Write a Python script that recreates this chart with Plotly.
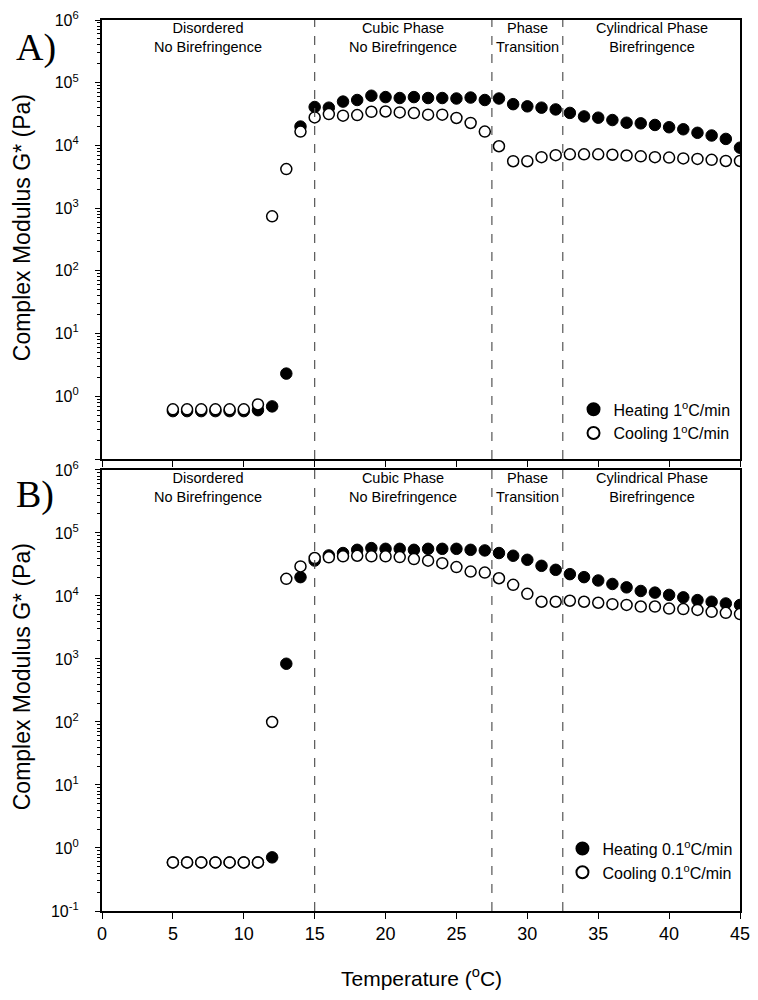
import plotly.graph_objects as go
from plotly.subplots import make_subplots

temps = list(range(5, 46))

# panel A, 1 C/min
heat_a = [0.58, 0.58, 0.58, 0.58, 0.58, 0.58, 0.6, 0.69, 2.3, 20000,
          41000, 40000, 50000, 53000, 62000, 59000, 57000, 59000, 57000, 57000,
          56000, 58000, 53000, 56000, 45500, 42000, 40000, 37500, 33000, 29000,
          27700, 25400, 23000, 22500, 21200, 19500, 18100, 15900, 14400, 12700, 9200]
cool_a = [0.62, 0.62, 0.62, 0.62, 0.62, 0.62, 0.74, 740, 4200, 16600,
          28000, 31600, 29800, 30500, 34400, 34800, 33600, 32800, 30900, 30900,
          27400, 22800, 16600, 9700, 5600, 5600, 6500, 7000, 7200, 7200,
          7200, 7100, 6900, 6700, 6500, 6400, 6200, 6100, 5900, 5650, 5650]

# panel B, 0.1 C/min
heat_b = [0.59, 0.59, 0.59, 0.59, 0.59, 0.59, 0.59, 0.71, 840, 19900,
          36500, 44000, 48000, 54000, 57500, 56000, 56000, 54000, 56000, 56000,
          56000, 54000, 52800, 48000, 43500, 37500, 30100, 26000, 22200, 19900,
          17600, 15500, 13700, 12000, 11300, 10400, 9500, 8600, 8100, 7600, 7200]
cool_b = [0.59, 0.59, 0.59, 0.59, 0.59, 0.59, 0.59, 100, 18700, 29400,
          40000, 41000, 42500, 43500, 42500, 42500, 41400, 38500, 36300, 33200,
          28700, 24400, 23500, 19100, 15000, 10800, 8100, 8100, 8400, 8100,
          7800, 7400, 7200, 6800, 6800, 6300, 6200, 6000, 5600, 5400, 5150]

phase_bounds = [15, 27.5, 32.5]
region_x = [7.5, 21.2, 30.0, 38.8]
region_text = ["Disordered<br>No Birefringence", "Cubic Phase<br>No Birefringence",
               "Phase<br>Transition", "Cylindrical Phase<br>Birefringence"]
xticks = list(range(0, 50, 5))
decades = [-1, 0, 1, 2, 3, 4, 5, 6]

FONT = "Liberation Sans, Arial, sans-serif"
SERIF = "Liberation Serif, Times New Roman, serif"

fig = make_subplots(rows=2, cols=1, vertical_spacing=0.0123)
fig.update_yaxes(domain=[0.5073, 1.0], row=1, col=1)
fig.update_yaxes(domain=[0.0, 0.495], row=2, col=1)

panels = [(heat_a, cool_a, "1", "legend"), (heat_b, cool_b, "0.1", "legend2")]
for i, (heat, cool, rate, leg) in enumerate(panels):
    r = i + 1
    sx = "" if r == 1 else str(r)
    fig.add_trace(go.Scatter(x=temps, y=heat, mode="markers", name="Heating " + rate + "<sup>o</sup>C/min",
                             marker=dict(symbol="circle", size=11.5, color="black",
                                         line=dict(color="black", width=1)),
                             legend=leg), row=r, col=1)
    fig.add_trace(go.Scatter(x=temps, y=cool, mode="markers", name="Cooling " + rate + "<sup>o</sup>C/min",
                             marker=dict(symbol="circle", size=11, color="white",
                                         line=dict(color="black", width=1.5)),
                             legend=leg), row=r, col=1)
    for b in phase_bounds:
        fig.add_shape(type="line", x0=b, x1=b, y0=0, y1=1, xref="x" + sx, yref="y" + sx + " domain",
                      line=dict(color="#555555", width=1.2, dash="dash"))
    for rx, rt in zip(region_x, region_text):
        fig.add_annotation(x=rx, y=1.004, xref="x" + sx, yref="y" + sx + " domain",
                           text=rt, showarrow=False, yanchor="top",
                           font=dict(family=FONT, size=14.5, color="black"))

minor_vals = [m * 10 ** d for d in range(-1, 6) for m in range(2, 10)]
# trailing spaces keep the labels clear of the axis, as in the original
ytext_b = ["10<sup>%d</sup>&nbsp;&nbsp;&nbsp;" % d for d in decades]
ytext_a = [""] + ytext_b[1:]
for r, ytext in [(1, ytext_a), (2, ytext_b)]:
    fig.update_yaxes(type="log", range=[-1, 6], tickvals=[10 ** d for d in decades], ticktext=ytext,
                     ticks="outside", ticklen=5, tickwidth=1.2, tickcolor="black",
                     minor=dict(tickvals=minor_vals, ticks="outside", ticklen=3, tickcolor="black"),
                     showline=True, linecolor="black", linewidth=1.5, mirror=True,
                     showgrid=False, zeroline=False, automargin=False, ticklabeloverflow="allow",
                     tickfont=dict(family=FONT, size=16, color="black"), row=r, col=1)
    fig.update_xaxes(range=[0, 45], tickvals=xticks, ticks="outside", ticklen=6, tickwidth=1.2,
                     tickcolor="black", showline=True, linecolor="black", linewidth=1.5, mirror=True,
                     showgrid=False, zeroline=False, showticklabels=(r == 2), automargin=False,
                     ticklabeloverflow="allow",
                     tickfont=dict(family=FONT, size=18, color="black"), row=r, col=1)

# axis titles and panel letters
fig.add_annotation(x=0.5, y=-0.074, xref="paper", yref="paper", text="Temperature (<sup>o</sup>C)",
                   showarrow=False, xanchor="center", yanchor="middle",
                   font=dict(family=FONT, size=21, color="black"))
for yc in [0.7666, 0.2626]:
    fig.add_annotation(x=-0.125, y=yc, xref="paper", yref="paper", text="Complex Modulus G* (Pa)",
                       textangle=-90, showarrow=False, xanchor="center", yanchor="middle",
                       font=dict(family=FONT, size=23, color="black"))
for yc, lab in [(0.9686, "A)"), (0.468, "B)")]:
    fig.add_annotation(x=-0.138, y=yc, xref="paper", yref="paper", text=lab, showarrow=False,
                       xanchor="left", yanchor="middle",
                       font=dict(family=SERIF, size=38, color="black"))

# the page body adds 8px on the left and top, so the figure is drawn 8px smaller
fig.update_layout(
    width=750, height=992,
    margin=dict(l=94, r=18, t=12, b=89),
    plot_bgcolor="white", paper_bgcolor="white",
    font=dict(family=FONT, color="black"),
    legend=dict(x=0.993, y=0.517, xanchor="right", yanchor="bottom", bgcolor="rgba(0,0,0,0)",
                font=dict(family=FONT, size=16, color="black"), itemsizing="constant"),
    legend2=dict(x=0.996, y=0.024, xanchor="right", yanchor="bottom", bgcolor="rgba(0,0,0,0)",
                 font=dict(family=FONT, size=16, color="black"), itemsizing="constant"),
)

fig.write_html("out.html")
